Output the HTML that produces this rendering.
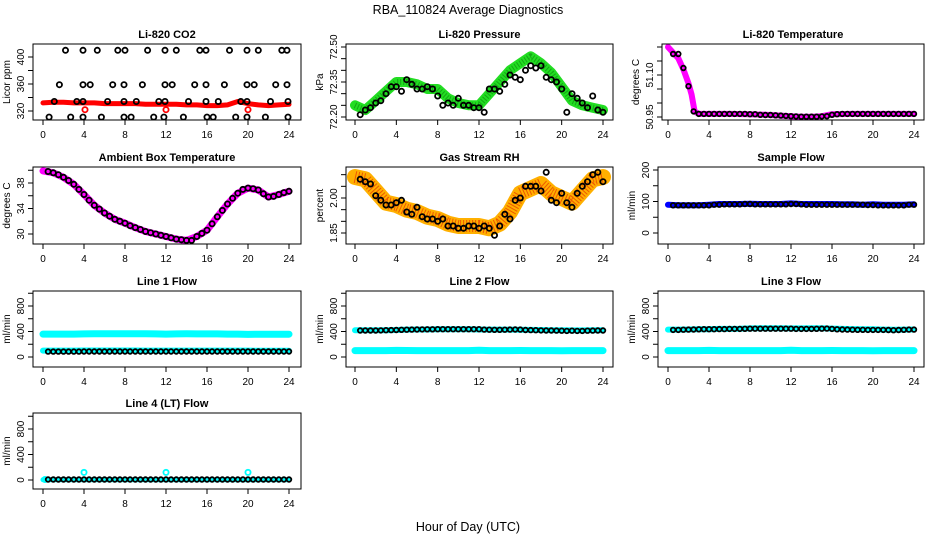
<!DOCTYPE html>
<html><head><meta charset="utf-8"><title>RBA_110824 Average Diagnostics</title>
<style>
html,body{margin:0;padding:0;background:#fff;}
svg{display:block;font-family:"Liberation Sans",sans-serif;}
</style></head>
<body>
<svg id="chart" width="936" height="540" viewBox="0 0 936 540" xmlns="http://www.w3.org/2000/svg">
<text x="468" y="14" text-anchor="middle" font-size="12.5">RBA_110824  Average Diagnostics</text>
<text x="468" y="531" text-anchor="middle" font-size="12.5">Hour of Day (UTC)</text>
</svg>
<script>
// ---------- DATA ----------
const hourly = [0,1,2,3,4,5,6,7,8,9,10,11,12,13,14,15,16,17,18,19,20,21,22,23,24];
const halfHours = [0.5,1,1.5,2,2.5,3,3.5,4,4.5,5,5.5,6,6.5,7,7.5,8,8.5,9,9.5,10,10.5,11,11.5,12,12.5,13,13.5,14,14.5,15,15.5,16,16.5,17,17.5,18,18.5,19,19.5,20,20.5,21,21.5,22,22.5,23,23.5,24];
const xTicks = [0,4,8,12,16,20,24];

// CO2
const co2Band = [332,333,333,332,332,332,331,331,331,331,330,330,330,330,329,329,328,328,329,334,331,329,328,329,330];
const co2BlackHours = [2.2,3.9,5.3,7.3,8.0,10.2,11.9,13.0,15.3,15.9,18.2,19.9,21.0,23.3,23.8,
  1.6,3.9,4.6,6.8,7.9,9.7,11.9,12.6,14.8,15.9,17.7,19.9,20.6,22.7,23.8,
  1.1,3.3,3.9,6.3,7.9,9.1,11.3,11.9,14.2,15.9,17.1,19.3,19.9,22.2,23.9,
  0.6,2.7,3.9,5.7,7.9,8.6,10.8,11.8,13.7,16.0,16.6,18.8,19.9,21.7,23.9];
const co2BlackValues = [410,410,410,410,410,410,410,410,410,410,410,410,410,410,410,
  359,359,359,359,359,359,359,359,359,359,359,359,359,359,359,
  334,334,334,334,334,334,334,334,334,334,334,334,334,334,334,
  311,311,311,311,311,311,311,311,311,311,311,311,311,311,311];
const co2RedHours = [4.1,12.0,20.0];
const co2RedValues = [322,322,322];

// Pressure
const presBand = [72.25,72.23,72.27,72.31,72.35,72.35,72.34,72.32,72.32,72.28,72.26,72.25,72.25,72.30,72.35,72.40,72.43,72.46,72.43,72.39,72.33,72.27,72.25,72.24,72.23];
const presBlack = [72.21,72.23,72.24,72.26,72.27,72.30,72.33,72.33,72.31,72.36,72.34,72.32,72.32,72.33,72.32,72.29,72.25,72.26,72.25,72.28,72.25,72.25,72.24,72.24,72.22,72.32,72.32,72.31,72.34,72.38,72.37,72.36,72.40,72.42,72.41,72.42,72.37,72.36,72.35,72.32,72.22,72.30,72.28,72.26,72.24,72.29,72.23,72.22];

// Li-820 temperature
const tempBandHours = [0,0.5,1,1.5,2,2.3,2.6,3,4,6,8,10,12,13,14,15,16,18,20,22,24];
const tempBand = [51.20,51.18,51.16,51.12,51.07,51.03,50.97,50.961,50.961,50.961,50.960,50.957,50.953,50.951,50.951,50.953,50.960,50.961,50.961,50.961,50.961];
const tempBlack = [51.175,51.175,51.125,51.06,50.97,50.961,50.961,50.961,50.961,50.961,50.961,50.961,50.961,50.961,50.961,50.960,50.960,50.958,50.957,50.957,50.956,50.955,50.954,50.953,50.952,50.951,50.951,50.951,50.951,50.952,50.953,50.958,50.960,50.961,50.961,50.961,50.961,50.961,50.961,50.961,50.961,50.961,50.961,50.961,50.961,50.961,50.961,50.961];

// Ambient box temperature
const ambBand = [39.9,39.6,38.9,37.8,36.2,34.5,33.3,32.3,31.7,31.0,30.4,30.0,29.6,29.2,29.0,29.6,30.6,32.7,34.7,36.4,37.2,36.9,35.8,36.2,36.7];
const ambBlack = [39.8,39.6,39.3,38.9,38.4,37.8,37.0,36.2,35.3,34.5,33.9,33.3,32.8,32.3,32.0,31.7,31.3,31.0,30.7,30.4,30.2,30.0,29.8,29.6,29.4,29.2,29.1,29.0,29.0,29.6,30.1,30.6,31.6,32.7,33.7,34.7,35.6,36.4,37.0,37.2,37.1,36.9,36.3,35.8,35.9,36.2,36.5,36.7];

// Gas stream RH
const rhBand = [2.09,2.08,2.03,1.98,1.97,1.95,1.94,1.92,1.91,1.89,1.88,1.88,1.88,1.87,1.89,1.94,2.02,2.04,2.06,2.02,2.00,1.98,2.03,2.08,2.09];
const rhBlack = [2.08,2.07,2.06,2.01,1.99,1.97,1.97,1.98,1.99,1.94,1.93,1.96,1.92,1.91,1.91,1.90,1.91,1.88,1.88,1.87,1.87,1.88,1.88,1.87,1.88,1.87,1.84,1.88,1.93,1.91,1.99,2.00,2.05,2.05,2.05,2.03,2.11,1.99,1.98,2.02,1.98,1.96,2.02,2.05,2.07,2.10,2.11,2.07];

// Sample flow
const sampleBand = [90,88,88,88,90,92,92,92,93,92,92,92,94,92,92,92,92,91,91,90,91,90,90,90,91];
const sampleBlack = [88,88,88,88,88,88,88,88,90,90,91,91,91,91,92,92,91,91,91,91,91,91,91,92,92,91,90,90,90,90,90,90,90,90,90,90,90,90,89,89,88,88,88,88,88,88,90,90];

// Line 1 flow
const line1BandA = [360,360,360,360,362,364,364,364,364,364,364,362,360,362,364,362,362,362,360,360,355,358,358,358,358];
const line1BandB = [100,100,100,100,102,102,102,102,102,102,100,100,100,100,100,100,100,100,100,100,100,98,98,98,98];
const line1Black = [85,85,85,85,85,85,85,86,86,86,86,86,86,86,86,87,87,87,87,87,86,86,86,86,86,86,86,86,86,86,86,86,86,86,86,86,86,86,86,86,86,86,86,86,86,86,86,86];

// Line 2 flow
const line2BandA = [420,420,420,420,424,430,432,432,434,434,434,434,432,430,430,430,428,425,424,420,420,418,418,420,420];
const line2BandB = [100,100,100,100,104,102,100,100,100,100,100,100,106,100,100,100,102,100,100,100,98,100,100,100,100];
const line2Black = [415,415,416,416,418,420,422,424,426,428,430,432,433,434,435,436,436,436,436,436,436,436,436,436,430,428,426,426,428,430,432,430,424,422,420,418,416,416,414,412,410,412,410,410,412,414,416,416];

// Line 3 flow
const line3BandA = [430,430,432,434,436,440,440,442,448,450,450,452,448,448,450,452,446,440,438,436,434,430,428,430,432];
const line3BandB = [100,100,100,100,104,100,100,100,100,100,100,100,106,100,100,100,102,100,100,100,98,100,100,100,100];
const line3Black = [425,425,428,430,432,434,436,436,436,438,438,440,440,440,442,444,444,444,444,444,444,444,444,444,440,440,440,440,442,444,446,440,434,432,430,428,426,426,425,425,425,425,424,420,424,426,430,430];

// Line 4 (LT) flow
const line4Band = [5,5,5,5,5,5,5,5,5,5,5,5,5,5,5,5,5,5,5,5,5,5,5,5,5];
const line4OutHours = [0.2,4.0,12.0,20.0];
const line4OutValues = [8,120,120,120];
const line4Black = [8,8,8,8,8,8,8,8,8,8,8,8,8,8,8,8,8,8,8,8,8,8,8,8,8,8,8,8,8,8,8,8,8,8,8,8,8,8,8,8,8,8,8,8,8,8,8,8];

// ---------- LAYOUT ----------
const NS = "http://www.w3.org/2000/svg";
const svg = document.getElementById('chart');
const cols = [{L:33,R:301,x0:43,x24:289},{L:346,R:613,x0:355,x24:603},{L:658,R:924,x0:668,x24:914}];
const rows = [{T:44,B:120},{T:167,B:244},{T:291,B:367},{T:413,B:489}];

function mk(tag, attrs, parent){
  const e = document.createElementNS(NS, tag);
  for (const k in attrs) e.setAttribute(k, attrs[k]);
  (parent||svg).appendChild(e);
  return e;
}

function makePanel(cfg){
  const c = cols[cfg.col], r = rows[cfg.row];
  const g = mk('g', {});
  
  
  const xs = h => c.x0 + (c.x24 - c.x0) * h / 24;
  const ys = v => cfg.ya[1] + (v - cfg.ya[0]) * (cfg.yb[1] - cfg.ya[1]) / (cfg.yb[0] - cfg.ya[0]);
  const L = cfg.left || c.L;
  const t = mk('text', {x:(L + c.R)/2, y:r.T - 6, 'text-anchor':'middle', 'font-size':11, 'font-weight':'bold'}, g);
  
  
  t.textContent = cfg.title;
  const clipId = 'clip-' + cfg.name;
  const cp = mk('clipPath', {id:clipId}, g);
  mk('rect', {x:L, y:r.T, width:c.R-L, height:r.B-r.T}, cp);
  const marks = mk('g', {'clip-path':'url(#' + clipId + ')'}, g);
  
  
  (cfg.bands||[]).forEach((b, bi) => {
    const pts = b.values.map((v,i) => xs(b.hours[i]).toFixed(1) + ',' + ys(v).toFixed(1)).join(' ');
    const pl = mk('polyline', {points:pts, fill:'none', stroke:b.color, 'stroke-width':b.w, 'stroke-linejoin':'round', 'stroke-linecap':'round'}, marks);
    
    
    if (b.dots){
      const pl2 = mk('polyline', {points:pts, fill:'none', stroke:b.dots, 'stroke-width':b.w-4, 'stroke-dasharray':'1 2', 'stroke-linejoin':'round', opacity:0.55}, marks);
      
      
    }
  });
  (cfg.points||[]).forEach(p => {
    p.values.forEach((v,i) => {
      const ci = mk('circle', {cx:xs(p.hours[i]).toFixed(1), cy:ys(v).toFixed(1), r:p.r||2.6, fill:'none', stroke:p.color, 'stroke-width':p.sw||1.8}, marks);
      
      
    });
  });
  const box = mk('rect', {x:L, y:r.T, width:c.R-L, height:r.B-r.T, fill:'none', stroke:'#000', 'stroke-width':1}, g);
  
  
  const xa = mk('g', {}, g);
  
  
  mk('line', {x1:xs(0), x2:xs(24), y1:r.B, y2:r.B, stroke:'#000'}, xa);
  xTicks.forEach(h => {
    mk('line', {x1:xs(h), x2:xs(h), y1:r.B, y2:r.B+5, stroke:'#000'}, xa);
    const tl = mk('text', {x:xs(h), y:r.B+18, 'text-anchor':'middle', 'font-size':10}, xa);
    
    
    tl.textContent = h;
  });
  const ya = mk('g', {}, g);
  
  
  cfg.yTicks.forEach(v => {
    mk('line', {x1:L, x2:L-5, y1:ys(v), y2:ys(v), stroke:'#000'}, ya);
  });
  mk('line', {x1:L, x2:L, y1:ys(cfg.yTicks[0]), y2:ys(cfg.yTicks[cfg.yTicks.length-1]), stroke:'#000'}, ya);
  cfg.yLabels.forEach((v,i) => {
    const y = ys(v), x = L - 9;
    const tl = mk('text', {x:x, y:y, 'text-anchor':'middle', 'font-size':10, transform:'rotate(-90 ' + x + ' ' + y + ')'}, ya);
    
    
    tl.textContent = cfg.yLabelText[i];
  });
  const yx = L - 23, yy = (r.T + r.B)/2;
  const yt = mk('text', {x:yx, y:yy, 'text-anchor':'middle', 'font-size':10, transform:'rotate(-90 ' + yx + ' ' + yy + ')'}, g);
  
  
  yt.textContent = cfg.ytitle;
}

const flowTicks = [0,200,400,600,800,1000];
makePanel({name:'co2', title:'Li-820 CO2', col:0, row:0, ya:[320,111], yb:[400,57], ytitle:'Licor ppm',
  yTicks:[320,340,360,380,400], yLabels:[320,360,400], yLabelText:['320','360','400'],
  bands:[{hours:hourly, values:co2Band, color:'#ff0000', w:5}],
  points:[{hours:co2BlackHours, values:co2BlackValues, color:'#000'},{hours:co2RedHours, values:co2RedValues, color:'#ff0000'}]});
makePanel({name:'pressure', title:'Li-820 Pressure', col:1, row:0, ya:[72.20,117], yb:[72.50,47], ytitle:'kPa',
  yTicks:[72.20,72.25,72.30,72.35,72.40,72.45,72.50], yLabels:[72.20,72.35,72.50], yLabelText:['72.20','72.35','72.50'],
  bands:[{hours:hourly, values:presBand, color:'#22dd22', w:10, dots:'#0a7a0a'}],
  points:[{hours:halfHours, values:presBlack, color:'#000'}]});
makePanel({name:'li820-temperature', title:'Li-820 Temperature', col:2, row:0, left:662, ya:[50.95,117], yb:[51.10,75], ytitle:'degrees C',
  yTicks:[50.95,51.00,51.05,51.10,51.15,51.20], yLabels:[50.95,51.10], yLabelText:['50.95','51.10'],
  bands:[{hours:tempBandHours, values:tempBand, color:'#ff00ff', w:6}],
  points:[{hours:halfHours, values:tempBlack, color:'#000', r:2.3}]});
makePanel({name:'ambient-temperature', title:'Ambient Box Temperature', col:0, row:1, ya:[30,234], yb:[38,183], ytitle:'degrees C',
  yTicks:[30,32,34,36,38,40], yLabels:[30,34,38], yLabelText:['30','34','38'],
  bands:[{hours:hourly, values:ambBand, color:'#ff00ff', w:7}],
  points:[{hours:halfHours, values:ambBlack, color:'#000'}]});
makePanel({name:'gas-rh', title:'Gas Stream RH', col:1, row:1, ya:[1.85,233], yb:[2.00,198], ytitle:'percent',
  yTicks:[1.85,1.90,1.95,2.00,2.05,2.10], yLabels:[1.85,2.00], yLabelText:['1.85','2.00'],
  bands:[{hours:hourly, values:rhBand, color:'#ffb000', w:16, dots:'#e01000'}],
  points:[{hours:halfHours, values:rhBlack, color:'#000'}]});
makePanel({name:'sample-flow', title:'Sample Flow', col:2, row:1, ya:[0,233], yb:[200,170], ytitle:'ml/min',
  yTicks:[0,50,100,150,200], yLabels:[0,100,200], yLabelText:['0','100','200'],
  bands:[{hours:hourly, values:sampleBand, color:'#0000ff', w:6}],
  points:[{hours:halfHours, values:sampleBlack, color:'#000', r:2.3}]});
makePanel({name:'line1-flow', title:'Line 1 Flow', col:0, row:2, ya:[0,357], yb:[800,306], ytitle:'ml/min',
  yTicks:flowTicks, yLabels:[0,400,800], yLabelText:['0','400','800'],
  bands:[{hours:hourly, values:line1BandA, color:'#00ffff', w:7},{hours:hourly, values:line1BandB, color:'#00ffff', w:6}],
  points:[{hours:halfHours, values:line1Black, color:'#000', r:2.3}]});
makePanel({name:'line2-flow', title:'Line 2 Flow', col:1, row:2, ya:[0,357], yb:[800,306], ytitle:'ml/min',
  yTicks:flowTicks, yLabels:[0,400,800], yLabelText:['0','400','800'],
  bands:[{hours:hourly, values:line2BandA, color:'#00ffff', w:6},{hours:hourly, values:line2BandB, color:'#00ffff', w:7}],
  points:[{hours:halfHours, values:line2Black, color:'#000', r:2.3}]});
makePanel({name:'line3-flow', title:'Line 3 Flow', col:2, row:2, ya:[0,357], yb:[800,306], ytitle:'ml/min',
  yTicks:flowTicks, yLabels:[0,400,800], yLabelText:['0','400','800'],
  bands:[{hours:hourly, values:line3BandA, color:'#00ffff', w:6},{hours:hourly, values:line3BandB, color:'#00ffff', w:7}],
  points:[{hours:halfHours, values:line3Black, color:'#000', r:2.3}]});
makePanel({name:'line4-flow', title:'Line 4 (LT) Flow', col:0, row:3, ya:[0,480], yb:[800,429], ytitle:'ml/min',
  yTicks:flowTicks, yLabels:[0,400,800], yLabelText:['0','400','800'],
  bands:[{hours:hourly, values:line4Band, color:'#00ffff', w:5}],
  points:[{hours:line4OutHours, values:line4OutValues, color:'#00ffff'},{hours:halfHours, values:line4Black, color:'#000', r:2.3}]});
</script>
</body></html>
